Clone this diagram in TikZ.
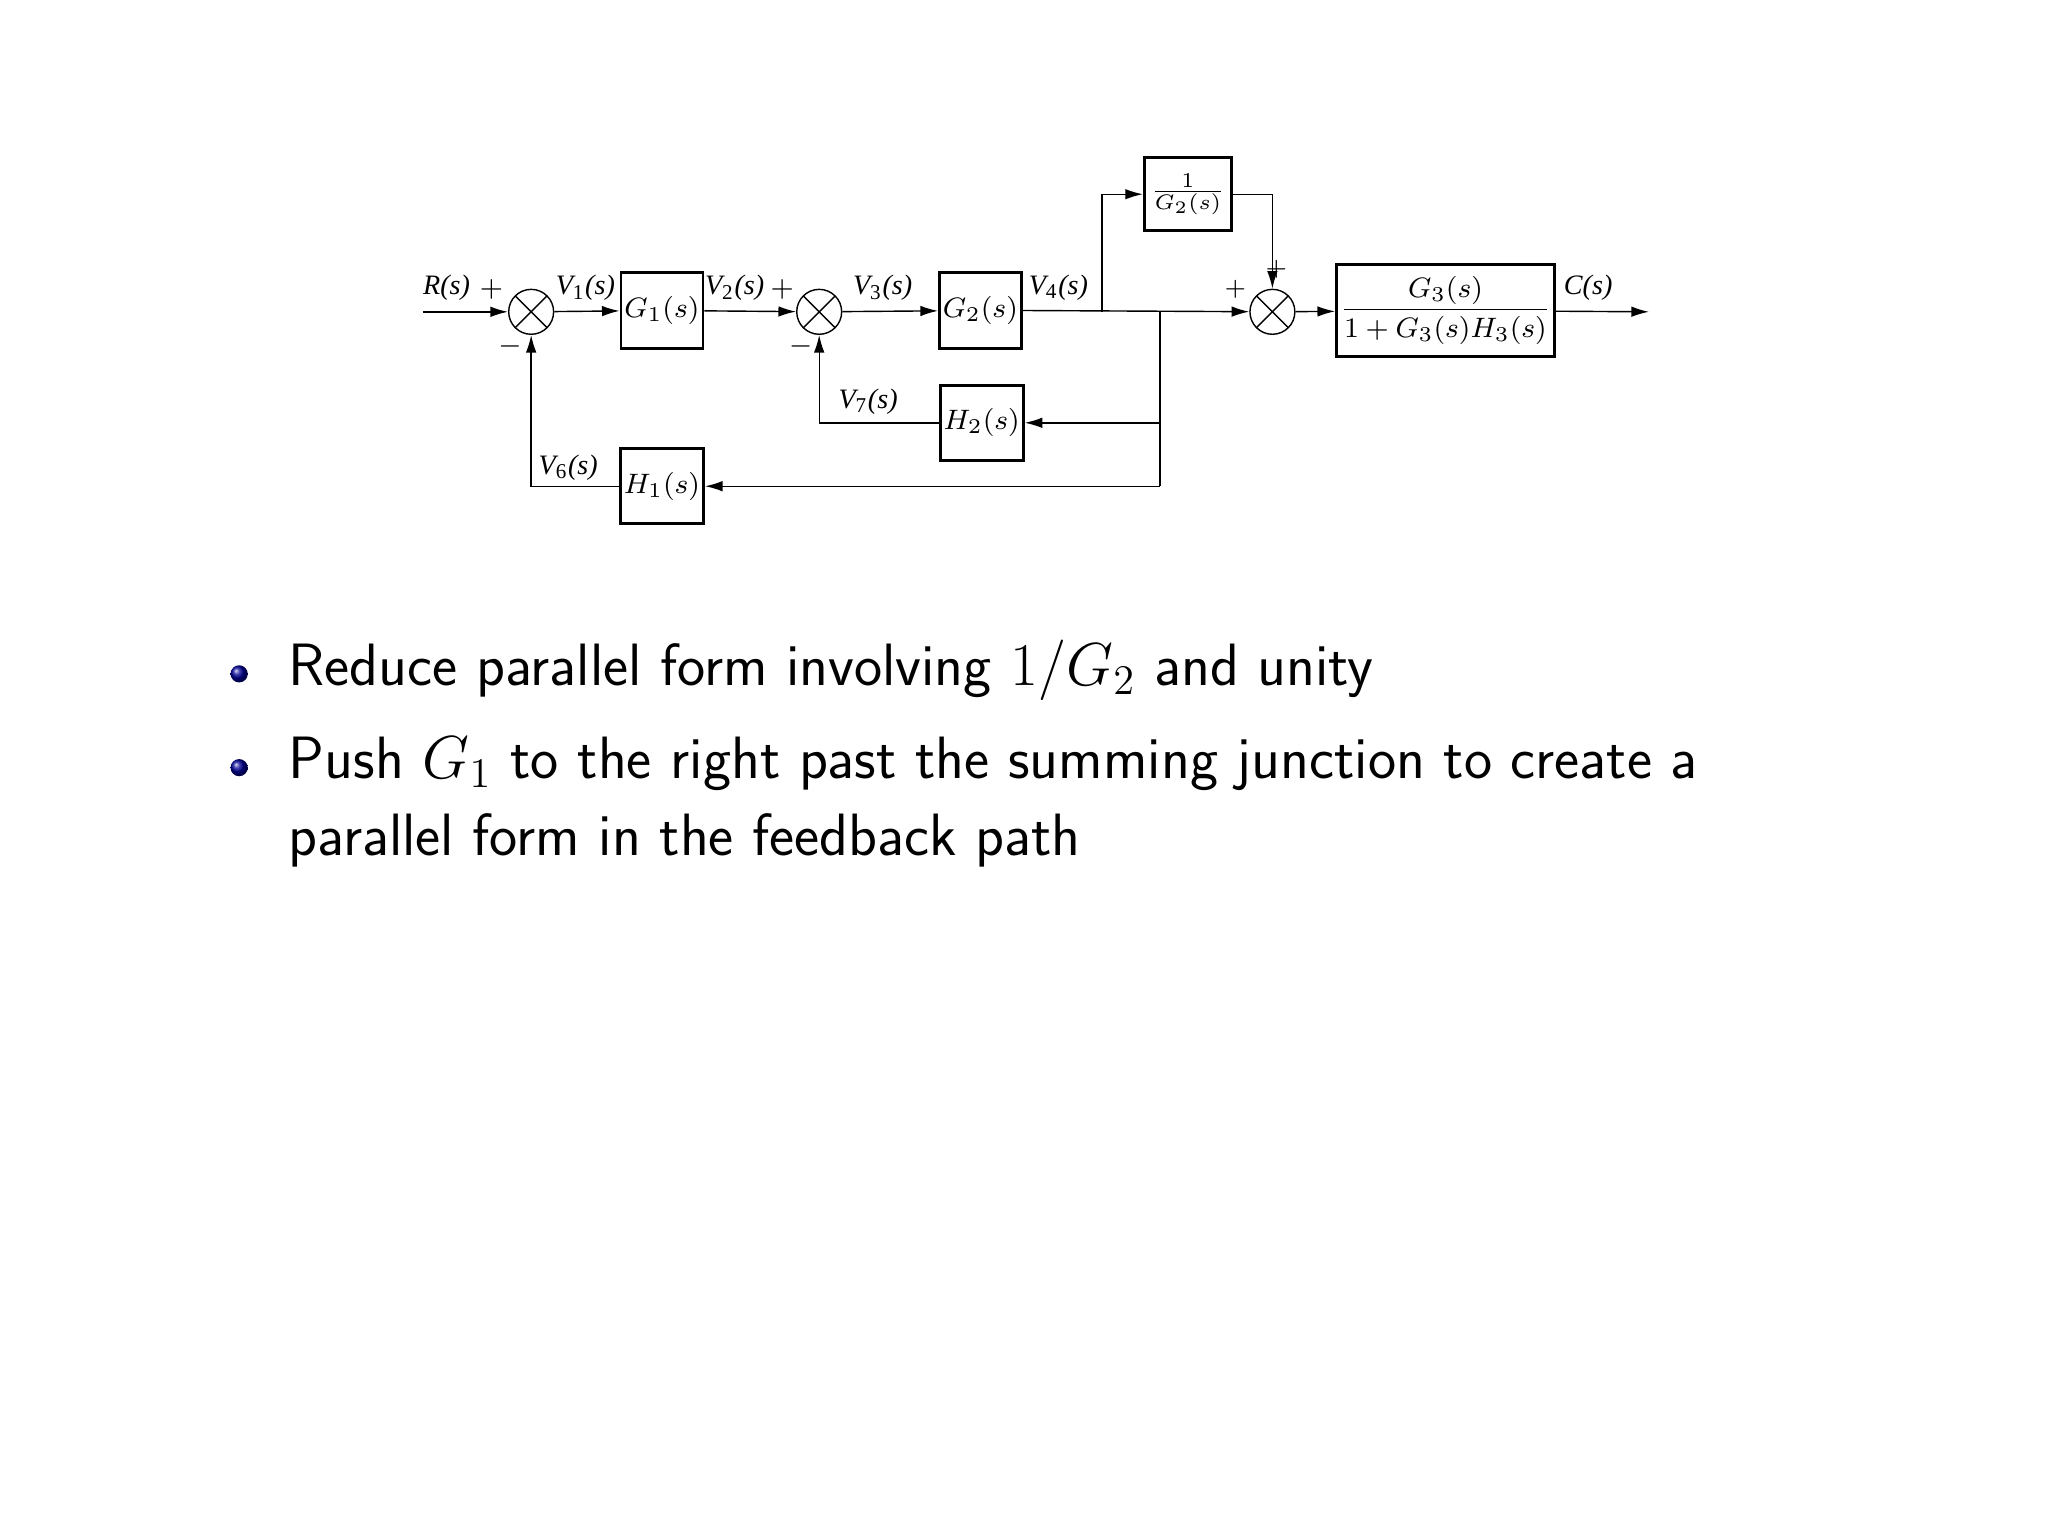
\documentclass[tikz,border=0pt]{standalone}
\usepackage{amsmath}
\usepackage{fontspec}
\newfontfamily\diagfont{Liberation Serif}
\usetikzlibrary{arrows.meta}
\newcommand*{\px}{0.013213cm}
\tikzset{
  block/.style={draw, thick, minimum width=59*\px, minimum height=57*\px, inner sep=1pt, font=\diagfont\fontsize{8}{9}\selectfont},
  sumj/.style={draw, circle, minimum size=34*\px, inner sep=0pt,
    path picture={\draw (path picture bounding box.north west) -- (path picture bounding box.south east)
      (path picture bounding box.north east) -- (path picture bounding box.south west);}},
  sig/.style={-{Latex[length=5pt,width=3pt]}},
  lbl/.style={font=\diagfont\fontsize{8}{9}\selectfont\itshape, inner sep=1pt},
  bullet/.style={circle, ball color=blue!60!black, minimum size=13*\px, inner sep=0pt},
  btext/.style={anchor=west, font=\sffamily\fontsize{17}{21}\selectfont, inner sep=0pt}
}
\begin{document}
\begin{tikzpicture}[x=\px, y=-\px]
    \useasboundingbox (0,0) rectangle (1550,1162);
    % blocks
    \node[block] (g1) at (501,235) {$G_1(s)$};
    \node[block] (g2) at (742,235) {$G_2(s)$};
    \node[block, minimum width=66*\px, minimum height=55*\px] (ig2) at (899,147) {$\frac{1}{G_2(s)}$};
    \node[block, minimum width=141*\px, minimum height=70*\px] (g3) at (1094,235) {$\dfrac{G_3(s)}{1+G_3(s)H_3(s)}$};
    \node[block] (h2) at (743,320) {$H_2(s)$};
    \node[block] (h1) at (501,368) {$H_1(s)$};
    % summing junctions
    \node[sumj] (s1) at (402,236) {};
    \node[sumj] (s2) at (620,236) {};
    \node[sumj] (s3) at (963,236) {};
    % branch points
    \coordinate (in) at (320,236);
    \coordinate (out) at (1248,236);
    \coordinate (b4) at (834,236);
    \coordinate (b5) at (878,236);
    % forward path
    \draw[sig] (in) -- (s1);
    \draw[sig] (s1) -- (g1);
    \draw[sig] (g1) -- (s2);
    \draw[sig] (s2) -- (g2);
    \draw[sig] (g2.east) -- (s3);
    \draw[sig] (s3) -- (g3);
    \draw[sig] (g3) -- (out);
    % parallel path
    \draw[sig] (b4) |- (ig2);
    \draw[sig] (ig2.east) -| (s3.north);
    % feedback paths
    \draw (b5) -- (b5 |- h1.east);
    \draw[sig] (b5 |- h2.east) -- (h2.east);
    \draw[sig] (b5 |- h1.east) -- (h1.east);
    \draw[sig] (h2.west) -| (s2.south);
    \draw[sig] (h1.west) -| (s1.south);
    % labels
    \node[lbl] at (338,218) {R(s)};
    \node[lbl] at (372,219) {$+$};
    \node[lbl] at (386,262) {$-$};
    \node[lbl] at (443,218) {V\textsubscript{\upshape1}(s)};
    \node[lbl] at (556,218) {V\textsubscript{\upshape2}(s)};
    \node[lbl] at (592,219) {$+$};
    \node[lbl] at (606,262) {$-$};
    \node[lbl] at (668,218) {V\textsubscript{\upshape3}(s)};
    \node[lbl] at (801,218) {V\textsubscript{\upshape4}(s)};
    \node[lbl] at (966,204) {\scriptsize$+$};
    \node[lbl] at (935,219) {\scriptsize$+$};
    \node[lbl] at (1202,218) {C(s)};
    \node[lbl] at (657,304) {V\textsubscript{\upshape7}(s)};
    \node[lbl] at (430,354) {V\textsubscript{\upshape6}(s)};
    % bullets
    \node[bullet] (p1) at (181,510) {};
    \node[btext] (t1) at (218,507) {Reduce parallel form involving $1/G_2$ and unity};
    \node[bullet] (p2) at (181,581) {};
    \node[btext] (t2) at (218,578) {Push $G_1$ to the right past the summing junction to create a};
    \node[btext] (t3) at (218,636) {parallel form in the feedback path};
\end{tikzpicture}
\end{document}
